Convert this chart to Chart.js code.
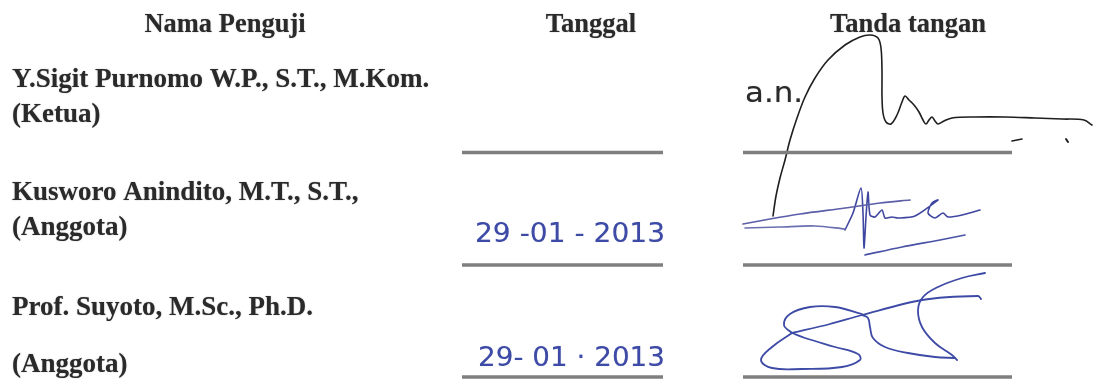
<!DOCTYPE html>
<html><head><meta charset="utf-8">
<script src="https://cdn.jsdelivr.net/npm/chart.js@4"></script>
<style>html,body{margin:0;padding:0;background:#fff;overflow:hidden}#wrap{width:1095px;height:379px}</style>
</head><body><div id="wrap"><canvas id="c" width="1095" height="379"></canvas></div>
<script>
// ---- content ----
const headers = ['Nama Penguji', 'Tanggal', 'Tanda tangan'];
const names = ['Y.Sigit Purnomo W.P., S.T., M.Kom.', 'Kusworo Anindito, M.T., S.T.,', 'Prof. Suyoto, M.Sc., Ph.D.'];
const roles = ['(Ketua)', '(Anggota)', '(Anggota)'];
const dates = ['', '29 -01 - 2013', '29- 01 · 2013'];
const proxyNote = 'a.n.';

// signature strokes (page coordinates)
const sigSigit = [
  {x:773,y:216},{x:776,y:196},{x:780,y:178},{x:785,y:160},{x:790,y:140},{x:797,y:118},{x:805,y:97},
  {x:815,y:78},{x:828,y:60},{x:845,y:45},{x:860,y:37},{x:870,y:35},{x:878,y:38},{x:881,y:48},
  {x:882,y:72},{x:882,y:96},{x:883,y:113},{x:886,y:122},{x:891,y:124},{x:897,y:115},{x:902,y:102},
  {x:905,y:96},{x:909,y:100},{x:914,y:105},{x:919,y:112},{x:923,y:120},{x:926,y:124},{x:929,y:120},
  {x:932,y:117},{x:935,y:121},{x:938,y:124},{x:944,y:121},{x:952,y:118},{x:975,y:117},{x:1005,y:117},
  {x:1035,y:118},{x:1062,y:119},{x:1084,y:120},{x:1092,y:125}
];
const sigSigitDash = [{x:1012,y:141},{x:1022,y:139}];
const sigSigitDot = [{x:1066,y:139},{x:1068,y:142}];

const sigKusA = [{x:743,y:224},{x:770,y:219},{x:800,y:214},{x:845,y:208},{x:880,y:203},{x:910,y:200}];
const sigKusB = [{x:745,y:228},{x:780,y:227},{x:815,y:226},{x:845,y:229}];
const sigKusC = [
  {x:845,y:230},{x:853,y:213},{x:861,y:188},{x:863,y:213},{x:864,y:248},{x:866,y:217},{x:868,y:192},
  {x:870,y:215},{x:875,y:217},{x:882,y:210},{x:885,y:218},{x:892,y:217},{x:898,y:218},{x:915,y:216},
  {x:938,y:200},{x:932,y:203},{x:928,y:213},{x:935,y:218},{x:943,y:213},{x:948,y:217},{x:962,y:215},{x:980,y:210}
];
const sigKusD = [{x:865,y:255},{x:902,y:247},{x:940,y:240},{x:965,y:235}];

const sigSuyLine = [{x:792,y:333},{x:830,y:324},{x:862,y:315},{x:922,y:300},{x:978,y:296},{x:981,y:299}];
const sigSuyTop = [{x:862,y:314},{x:835,y:307},{x:810,y:307},{x:790,y:314},{x:784,y:325},{x:792,y:333}];
const sigSuyLow = [
  {x:792,y:333},{x:772,y:347},{x:761,y:360},{x:772,y:368},{x:802,y:369},{x:842,y:367},{x:860,y:360},
  {x:858,y:354},{x:835,y:347},{x:805,y:338},{x:792,y:333}
];
const sigSuySquig = [{x:862,y:315},{x:868,y:318},{x:870,y:327},{x:873,y:338},{x:885,y:347},{x:908,y:353},{x:935,y:357},{x:955,y:358}];
const sigSuyC = [{x:985,y:273},{x:962,y:278},{x:938,y:287},{x:923,y:297},{x:918,y:310},{x:922,y:327},{x:935,y:343},{x:952,y:355},{x:957,y:360}];

// ---- layout ----
const ruleY = [152.5, 265, 377];
const ruleSpans = [[462, 663], [743, 1012]];

const INK = '#2a2a2a', BLUE = '#3d4aa6', PEN = '#1f1f1f', RULE = '#7f7f7f';

const datasets = [];
ruleY.forEach(y => ruleSpans.forEach(s => datasets.push({
  data: [{x:s[0], y}, {x:s[1], y}], borderColor: RULE, borderWidth: 3.5, tension: 0, borderCapStyle: 'butt'
})));
const addStroke = (pts, color, w, t) => datasets.push({data: pts, borderColor: color, borderWidth: w, tension: t});
addStroke(sigSigit, PEN, 1.6, 0.35);
addStroke(sigSigitDash, PEN, 1.6, 0);
addStroke(sigSigitDot, PEN, 2, 0);
addStroke(sigKusA, '#5a5fa8', 1.7, 0.3);
addStroke(sigKusB, '#6a6fb0', 1.7, 0.3);
addStroke(sigKusC, '#3f46a0', 1.6, 0.25);
addStroke(sigKusD, '#4a52a6', 1.7, 0.3);
addStroke(sigSuyLine, BLUE, 1.8, 0.3);
addStroke(sigSuyTop, BLUE, 1.8, 0.4);
addStroke(sigSuyLow, BLUE, 1.8, 0.4);
addStroke(sigSuySquig, BLUE, 1.8, 0.4);
addStroke(sigSuyC, BLUE, 1.8, 0.4);

const headerPos = [[225, 32], [591, 32], [908, 32]];
const nameBase = [87, 200, 315];
const roleBase = [122, 235, 372];
const datePos = [null, [475, 242, 190], [478, 366, 187]];

function fitText(ctx, text, x, y, w) {
  const m = ctx.measureText(text).width;
  ctx.save();
  ctx.translate(x, y);
  ctx.scale(w / m, 1);
  ctx.fillText(text, 0, 0);
  ctx.restore();
}

const textPlugin = {
  id: 'docText',
  afterDatasetsDraw(chart) {
    const ctx = chart.ctx, sx = chart.scales.x, sy = chart.scales.y;
    const X = v => sx.getPixelForValue(v), Y = v => sy.getPixelForValue(v);
    ctx.save();
    ctx.fillStyle = INK;
    ctx.shadowColor = 'rgba(40,40,40,0.45)';
    ctx.shadowBlur = 1.2;
    ctx.textBaseline = 'alphabetic';
    ctx.font = 'bold 26.5px "Liberation Serif", "Times New Roman", serif';
    ctx.textAlign = 'center';
    headers.forEach((h, i) => ctx.fillText(h, X(headerPos[i][0]), Y(headerPos[i][1])));
    ctx.textAlign = 'left';
    ctx.font = 'bold 27px "Liberation Serif", "Times New Roman", serif';
    names.forEach((n, i) => ctx.fillText(n, X(12), Y(nameBase[i])));
    roles.forEach((r, i) => ctx.fillText(r, X(12), Y(roleBase[i])));
    // handwritten parts
    ctx.shadowBlur = 0.8;
    ctx.shadowColor = 'rgba(60,74,166,0.4)';
    ctx.fillStyle = BLUE;
    ctx.font = '27px "DejaVu Sans", sans-serif';
    dates.forEach((d, i) => { if (d && datePos[i]) fitText(ctx, d, X(datePos[i][0]), Y(datePos[i][1]), datePos[i][2]); });
    ctx.shadowColor = 'rgba(30,30,30,0.4)';
    ctx.fillStyle = '#2a2a2a';
    ctx.font = '29px "DejaVu Sans", sans-serif';
    fitText(ctx, proxyNote, X(745), Y(102), 58);
    ctx.restore();
  }
};

new Chart(document.getElementById('c'), {
  type: 'scatter',
  data: { datasets: datasets.map(d => Object.assign({showLine: true, pointRadius: 0, pointHoverRadius: 0, fill: false, borderCapStyle: 'round', borderJoinStyle: 'round'}, d)) },
  options: {
    responsive: false, animation: false, events: [],
    layout: { padding: 0 },
    plugins: { legend: { display: false }, tooltip: { enabled: false } },
    scales: {
      x: { type: 'linear', min: 0, max: 1095, display: false },
      y: { type: 'linear', min: 0, max: 379, reverse: true, display: false }
    }
  },
  plugins: [textPlugin]
});
</script>
</body></html>
